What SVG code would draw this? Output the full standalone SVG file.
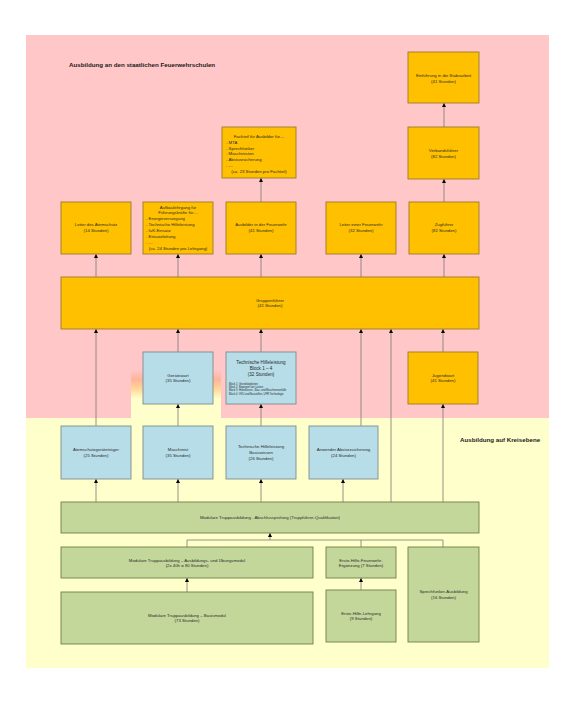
<svg xmlns="http://www.w3.org/2000/svg" width="576" height="721" viewBox="0 0 576 721">
<defs>
<style>
.o{fill:#FFC000;stroke:#9C7A2A;stroke-width:0.9}
.b{fill:#B7DDE8;stroke:#7F8C8D;stroke-width:0.9}
.g{fill:#C4D79B;stroke:#6F7F45;stroke-width:0.9}
text{font-family:"Liberation Sans",Arial,sans-serif;fill:#2a2a2a}
.t{font-size:4.3px;text-anchor:middle}
.l{font-size:4.3px}
.s{font-size:2.6px}
.h{font-size:6.2px;font-weight:bold;fill:#1a1a1a}
.c{fill:none;stroke:#7a7a7a;stroke-width:0.8}
</style>
<marker id="a" viewBox="0 0 10 10" refX="10" refY="5" markerWidth="4" markerHeight="4" markerUnits="userSpaceOnUse" orient="auto"><path d="M0,0 L10,5 L0,10 z" fill="#000"/></marker>
<linearGradient id="gr" x1="0" y1="0" x2="0" y2="1">
<stop offset="0" stop-color="#FFC7C7"/>
<stop offset="0.2" stop-color="#FFB39A"/>
<stop offset="0.4" stop-color="#FFD898"/>
<stop offset="0.6" stop-color="#FFFFCC"/>
<stop offset="1" stop-color="#FFFFCC"/>
</linearGradient>
</defs>
<rect width="576" height="721" fill="#fff"/>
<g id="background">
<rect x="26" y="35" width="523" height="383" fill="#FFC7C7"/>
<rect x="26" y="418" width="523" height="250" fill="#FFFFCC"/>
<rect x="131" y="370" width="90" height="48" fill="url(#gr)"/>
<text class="h" x="69" y="67">Ausbildung an den staatlichen Feuerwehrschulen</text>
<text class="h" x="460" y="442">Ausbildung auf Kreisebene</text>
</g>
<g id="connectors">
<path class="c" marker-end="url(#a)" d="M444,127V103"/>
<path class="c" marker-end="url(#a)" d="M444,202V179"/>
<path class="c" marker-end="url(#a)" d="M261,202V178"/>
<path class="c" marker-end="url(#a)" d="M96,277V254"/>
<path class="c" marker-end="url(#a)" d="M178,277V254"/>
<path class="c" marker-end="url(#a)" d="M261,277V254"/>
<path class="c" marker-end="url(#a)" d="M361,277V254"/>
<path class="c" marker-end="url(#a)" d="M444,277V254"/>
<path class="c" marker-end="url(#a)" d="M178,352V329"/>
<path class="c" marker-end="url(#a)" d="M261,352V329"/>
<path class="c" marker-end="url(#a)" d="M443,352V329"/>
<path class="c" marker-end="url(#a)" d="M96,426V329"/>
<path class="c" marker-end="url(#a)" d="M361,426V329"/>
<path class="c" marker-end="url(#a)" d="M178,426V404"/>
<path class="c" marker-end="url(#a)" d="M261,426V404"/>
<path class="c" marker-end="url(#a)" d="M96,502V479"/>
<path class="c" marker-end="url(#a)" d="M178,502V479"/>
<path class="c" marker-end="url(#a)" d="M261,502V479"/>
<path class="c" marker-end="url(#a)" d="M343,502V479"/>
<path class="c" marker-end="url(#a)" d="M391,502V329"/>
<path class="c" marker-end="url(#a)" d="M443,502V404"/>
<path class="c" d="M187,547V540H443V547M361,547V540"/>
<path class="c" marker-end="url(#a)" d="M270,540V533"/>
<path class="c" marker-end="url(#a)" d="M187,592V578"/>
<path class="c" marker-end="url(#a)" d="M361,590V578"/>
</g>
<g id="stabsarbeit"><rect class="o" x="408" y="52" width="71" height="51"/><text class="t" x="443.5" y="77">Einführung in die Stabsarbeit</text><text class="t" x="443.5" y="83">(41 Stunden)</text></g>
<g id="verbandsfuehrer"><rect class="o" x="408" y="127" width="71" height="52"/><text class="t" x="443.5" y="152">Verbandsführer</text><text class="t" x="443.5" y="158">(82 Stunden)</text></g>
<g id="fachteil"><rect class="o" x="222" y="127" width="74" height="51"/>
<text class="t" x="259" y="138">Fachteil für Ausbilder für…</text>
<text class="l" x="226" y="143.8">- MTA</text>
<text class="l" x="226" y="149.6">- Sprechfunker</text>
<text class="l" x="226" y="155.4">- Maschinisten</text>
<text class="l" x="226" y="161.2">- Absturzsicherung</text>
<text class="l" x="226" y="167">- …</text>
<text class="t" x="259" y="172.8">(ca. 23 Stunden pro Fachteil)</text></g>
<g id="leiter-atemschutz"><rect class="o" x="61" y="202" width="70" height="52"/><text class="t" x="96" y="226">Leiter des Atemschutz</text><text class="t" x="96" y="232">(14 Stunden)</text></g>
<g id="aufbaulehrgang"><rect class="o" x="143" y="202" width="70" height="52"/>
<text class="t" x="178" y="208.5">Aufbaulehrgang für</text>
<text class="t" x="178" y="214.4">Führungskräfte für…</text>
<text class="l" x="146" y="220.3">- Energieversorgung</text>
<text class="l" x="146" y="226.2">- Technische Hilfeleistung</text>
<text class="l" x="146" y="232.1">- IuK-Einsatz</text>
<text class="l" x="146" y="238">- Einsatzleitung</text>
<text class="l" x="146" y="243.9">- …</text>
<text class="t" x="178" y="249.8">(ca. 24 Stunden pro Lehrgang)</text></g>
<g id="ausbilder"><rect class="o" x="226" y="202" width="70" height="52"/><text class="t" x="261" y="226">Ausbilder in der Feuerwehr</text><text class="t" x="261" y="232">(41 Stunden)</text></g>
<g id="leiter-feuerwehr"><rect class="o" x="326" y="202" width="70" height="52"/><text class="t" x="361" y="226">Leiter einer Feuerwehr</text><text class="t" x="361" y="232">(32 Stunden)</text></g>
<g id="zugfuehrer"><rect class="o" x="409" y="202" width="70" height="52"/><text class="t" x="444" y="226">Zugführer</text><text class="t" x="444" y="232">(82 Stunden)</text></g>
<g id="gruppenfuehrer"><rect class="o" x="61" y="277" width="418" height="52"/><text class="t" x="270" y="301.5">Gruppenführer</text><text class="t" x="270" y="307.3">(41 Stunden)</text></g>
<g id="geraetewart"><rect class="b" x="143" y="352" width="70" height="52"/><text class="t" x="178" y="376.5">Gerätewart</text><text class="t" x="178" y="382.2">(35 Stunden)</text></g>
<g id="thl-block"><rect class="b" x="226" y="352" width="70" height="52"/>
<text class="t" x="261" y="363.5" style="font-size:4.6px">Technische Hilfeleistung</text>
<text class="t" x="261" y="369.5" style="font-size:4.6px">Block 1 – 4</text>
<text class="t" x="261" y="375.5" style="font-size:4.6px">(32 Stunden)</text>
<text class="s" x="229" y="385">Block 1: Grundtätigkeiten</text>
<text class="s" x="229" y="388.2">Block 2: Bewegen von Lasten</text>
<text class="s" x="229" y="391.4">Block 3: Hebekissen-, Bau- und Maschinenunfälle</text>
<text class="s" x="229" y="394.6">Block 4: VKU und Baustellen, UFR Technologie</text></g>
<g id="jugendwart"><rect class="o" x="408" y="352" width="70" height="52"/><text class="t" x="443" y="376.5">Jugendwart</text><text class="t" x="443" y="382.2">(41 Stunden)</text></g>
<g id="atemschutzgeraetetraeger"><rect class="b" x="61" y="426" width="70" height="53"/><text class="t" x="96" y="451">Atemschutzgeräteträger</text><text class="t" x="96" y="456.8">(25 Stunden)</text></g>
<g id="maschinist"><rect class="b" x="143" y="426" width="70" height="53"/><text class="t" x="178" y="451">Maschinist</text><text class="t" x="178" y="456.8">(35 Stunden)</text></g>
<g id="thl-basis"><rect class="b" x="226" y="426" width="70" height="53"/><text class="t" x="261" y="448">Technische Hilfeleistung</text><text class="t" x="261" y="454">Basiswissen</text><text class="t" x="261" y="459.8">(26 Stunden)</text></g>
<g id="absturzsicherung"><rect class="b" x="309" y="426" width="69" height="53"/><text class="t" x="343.5" y="451">Anwender Absturzsicherung</text><text class="t" x="343.5" y="456.8">(24 Stunden)</text></g>
<g id="abschlusspruefung"><rect class="g" x="61" y="502" width="418" height="31"/><text class="t" x="270" y="519.2">Modulare Truppausbildung - Abschlussprüfung (Truppführer-Qualifikation)</text></g>
<g id="uebungsmodul"><rect class="g" x="61" y="547" width="252" height="31"/><text class="t" x="187" y="561.5">Modulare Truppausbildung – Ausbildungs- und Übungsmodul</text><text class="t" x="187" y="567.3">(2x 40h = 80 Stunden)</text></g>
<g id="eh-ergaenzung"><rect class="g" x="326" y="547" width="70" height="31"/><text class="t" x="361" y="561.5">Erste-Hilfe-Feuerwehr-</text><text class="t" x="361" y="567.3">Ergänzung (7 Stunden)</text></g>
<g id="sprechfunker"><rect class="g" x="408" y="547" width="71" height="95"/><text class="t" x="443.5" y="593">Sprechfunker-Ausbildung</text><text class="t" x="443.5" y="598.8">(16 Stunden)</text></g>
<g id="basismodul"><rect class="g" x="61" y="592" width="252" height="52"/><text class="t" x="187" y="616.5">Modulare Truppausbildung – Basismodul</text><text class="t" x="187" y="622.3">(73 Stunden)</text></g>
<g id="eh-lehrgang"><rect class="g" x="326" y="590" width="70" height="52"/><text class="t" x="361" y="614.5">Erste-Hilfe-Lehrgang</text><text class="t" x="361" y="620.3">(9 Stunden)</text></g>
</svg>
